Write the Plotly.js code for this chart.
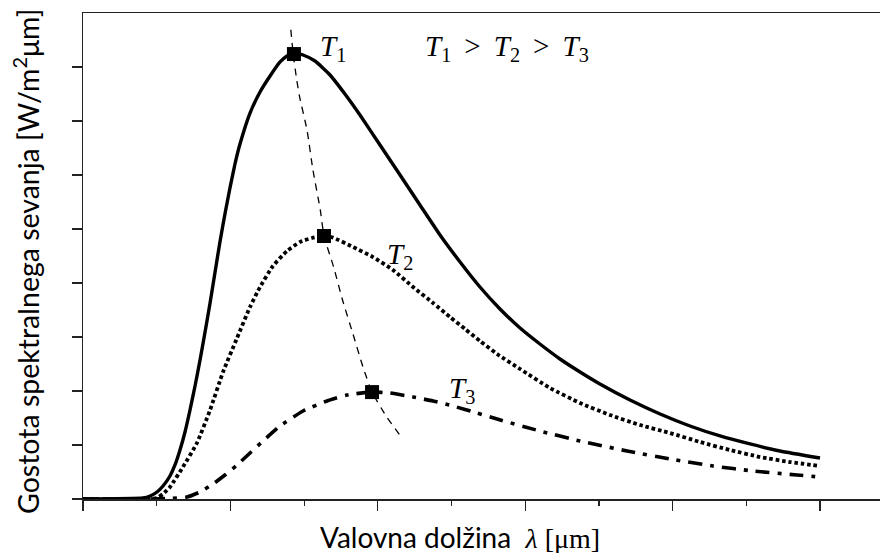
<!DOCTYPE html>
<html>
<head>
<meta charset="utf-8">
<script src="https://cdn.plot.ly/plotly-3.0.1.min.js"></script>
<style>html,body{margin:0;padding:0;background:#fff;}#chart{width:880px;height:553px;}</style>
</head>
<body>
<div id="chart"></div>
<script>
// Wavelength (arbitrary units) and spectral radiance
var lambdaT1 = [0, 0.407, 0.455, 0.502, 0.543, 0.590, 0.624, 0.658, 0.692, 0.726, 0.760, 0.794, 0.828, 0.862, 0.896, 0.929, 0.963, 0.997, 1.031, 1.065, 1.133, 1.201, 1.269, 1.337, 1.384, 1.431, 1.493, 1.574, 1.676, 1.777, 1.879, 2.015, 2.151, 2.286, 2.422, 2.558, 2.693, 2.829, 2.965, 3.100, 3.236, 3.372, 3.507, 3.711, 3.915, 4.118, 4.322, 4.525, 4.729, 5.0];
var radT1    = [0, 0.019, 0.056, 0.130, 0.241, 0.426, 0.630, 0.907, 1.241, 1.648, 2.093, 2.574, 3.093, 3.630, 4.204, 4.759, 5.278, 5.759, 6.204, 6.574, 7.148, 7.537, 7.833, 8.093, 8.204, 8.259, 8.222, 8.111, 7.852, 7.500, 7.111, 6.556, 6.000, 5.444, 4.889, 4.389, 3.926, 3.519, 3.167, 2.870, 2.593, 2.352, 2.130, 1.833, 1.574, 1.352, 1.167, 1.019, 0.889, 0.759];

var lambdaT2 = [0, 0.455, 0.502, 0.543, 0.590, 0.678, 0.773, 0.862, 0.950, 1.045, 1.133, 1.201, 1.289, 1.384, 1.472, 1.554, 1.635, 1.696, 1.832, 1.967, 2.103, 2.239, 2.375, 2.490, 2.592, 2.693, 2.809, 2.965, 3.168, 3.372, 3.575, 3.779, 3.982, 4.186, 4.389, 4.593, 4.796, 5.0];
var radT2    = [0, 0, 0.019, 0.093, 0.222, 0.593, 1.037, 1.648, 2.352, 2.981, 3.556, 3.926, 4.315, 4.593, 4.759, 4.833, 4.870, 4.840, 4.667, 4.481, 4.241, 3.926, 3.630, 3.370, 3.148, 2.926, 2.685, 2.407, 2.056, 1.778, 1.556, 1.370, 1.222, 1.056, 0.907, 0.778, 0.685, 0.611];

var lambdaT3 = [0, 0.455, 0.590, 0.706, 0.794, 0.882, 0.963, 1.045, 1.133, 1.221, 1.337, 1.493, 1.655, 1.791, 1.961, 2.083, 2.239, 2.375, 2.510, 2.673, 2.809, 3.100, 3.372, 3.691, 3.982, 4.274, 4.545, 4.844, 5.0];
var radT3    = [0, 0, 0.010, 0.037, 0.130, 0.278, 0.444, 0.630, 0.852, 1.074, 1.352, 1.630, 1.815, 1.926, 1.981, 1.963, 1.889, 1.815, 1.722, 1.593, 1.481, 1.259, 1.074, 0.889, 0.741, 0.611, 0.519, 0.444, 0.407];

// Wien displacement locus
var lambdaWien = [1.41, 1.425, 1.45, 1.47, 1.52, 1.56, 1.61, 1.635, 1.70, 1.76, 1.83, 1.90, 1.961, 2.06, 2.17];
var radWien    = [8.69, 8.26, 7.76, 7.44, 6.83, 6.09, 5.35, 4.87, 4.30, 3.69, 3.07, 2.44, 1.98, 1.52, 1.11];

// Peak points
var peakLambda = [1.431, 1.635, 1.961];
var peakRad    = [8.24, 4.87, 1.98];

var xTicks = [0, 1, 2, 3, 4, 5];
var xMinorTicks = [0.5, 1.5, 2.5, 3.5, 4.5];
var yTicks = [0, 1, 2, 3, 4, 5, 6, 7, 8];

var labelText = ['<i>T</i><sub>1</sub>', '<i>T</i><sub>2</sub>', '<i>T</i><sub>3</sub>',
                 '<i>T</i><sub>1</sub> \u2009&gt;\u2009 <i>T</i><sub>2</sub> \u2009&gt;\u2009 <i>T</i><sub>3</sub>'];
var labelX = [1.594, 2.049, 2.469, 2.307];
var labelY = [8.35, 4.50, 2.02, 8.35];

var mathFont = 'Liberation Serif, DejaVu Serif, serif';
var sansFont = 'Lato, Open Sans, sans-serif';

var traces = [
  {x: lambdaT1, y: radT1, mode: 'lines', line: {color: '#000', width: 3.4, shape: 'spline', smoothing: 0.5}},
  {x: lambdaT2, y: radT2, mode: 'lines', line: {color: '#000', width: 3.8, shape: 'spline', smoothing: 0.5, dash: '3.6px,2.8px'}},
  {x: lambdaT3, y: radT3, mode: 'lines', line: {color: '#000', width: 3.6, shape: 'spline', smoothing: 0.5, dash: '14px,8px,4px,8px'}},
  {x: lambdaWien, y: radWien, mode: 'lines', line: {color: '#000', width: 1.3, shape: 'spline', smoothing: 0.5, dash: '7px,6px'}},
  {x: peakLambda, y: peakRad, mode: 'markers', marker: {symbol: 'square', size: 14, color: '#000'}}
];

var annotations = labelText.map(function (t, i) {
  return {x: labelX[i], y: labelY[i], xref: 'x', yref: 'y', text: t, showarrow: false,
          xanchor: 'left', yanchor: 'middle', font: {family: mathFont, size: 29, color: '#000'}};
});
annotations.push({
  xref: 'paper', yref: 'paper', x: 0.473, y: -0.078, xanchor: 'center', yanchor: 'middle', showarrow: false,
  text: 'Valovna dolžina  <span style="font-family:Liberation Serif, serif"><i>λ</i> [μm]</span>',
  font: {family: sansFont, size: 28, color: '#000'}
});
annotations.push({
  xref: 'paper', yref: 'paper', x: -0.0715, y: 0.4877, xanchor: 'center', yanchor: 'middle', showarrow: false,
  textangle: -90,
  text: 'Gostota spektralnega sevanja [W/m<sup>2</sup>μm]',
  font: {family: sansFont, size: 28.5, color: '#000'}
});

var layout = {
  width: 880, height: 553,
  margin: {l: 83, r: 0, t: 13, b: 54, pad: 0},
  paper_bgcolor: '#fff', plot_bgcolor: '#fff',
  showlegend: false,
  xaxis: {
    range: [0, 5.407], showgrid: false, zeroline: false,
    showline: true, linecolor: '#222', linewidth: 1.5, mirror: true,
    tickvals: xTicks, ticks: 'outside', ticklen: 10, tickwidth: 1.2, tickcolor: '#222',
    showticklabels: false,
    minor: {tickvals: xMinorTicks, ticks: 'outside', ticklen: 5, tickwidth: 1.2, tickcolor: '#222', showgrid: false}
  },
  yaxis: {
    range: [0, 9], showgrid: false, zeroline: false,
    showline: true, linecolor: '#222', linewidth: 1.5,
    tickvals: yTicks, ticks: 'outside', ticklen: 10, tickwidth: 1.2, tickcolor: '#222',
    showticklabels: false
  },
  annotations: annotations
};

Plotly.newPlot('chart', traces, layout, {displayModeBar: false, staticPlot: true});
</script>
</body>
</html>
